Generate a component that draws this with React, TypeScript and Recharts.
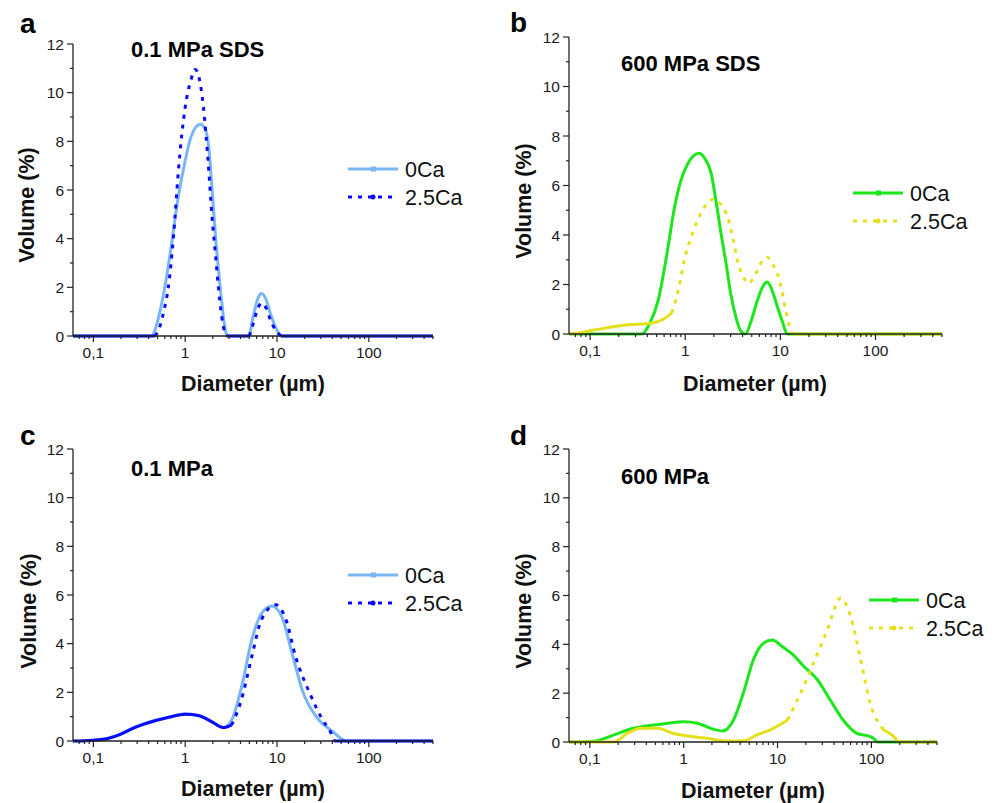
import React from 'react';
import { LineChart, Line, XAxis, YAxis } from 'recharts';

type Pt = { d: number; v: number };

// axis ticks
const xMajor = [0.1, 1, 10, 100];
const xMinor = [0.07, 0.08, 0.09, 0.2, 0.3, 0.4, 0.5, 0.6, 0.7, 0.8, 0.9, 2, 3, 4, 5, 6, 7, 8, 9, 20, 30, 40, 50, 60, 70, 80, 90, 200, 300, 400, 500];
const xTickText: Record<string, string> = { '0.1': '0,1', '1': '1', '10': '10', '100': '100' };
const yMajor = [0, 2, 4, 6, 8, 10, 12];
const yMinor = [1, 3, 5, 7, 9, 11];
const xDomain: [number, number] = [0.06, 500];

// diameter (µm), volume (%)
const a0Ca: [number, number][] = [
  [0.06, 0], [0.42, 0], [0.47, 0.25], [0.5, 0.6], [0.6, 2.0], [0.7, 3.6], [0.84, 5.7], [1.0, 7.2], [1.16, 8.2],
  [1.46, 8.7], [1.65, 8.5], [1.8, 7.8], [2.0, 5.6], [2.13, 4.2], [2.35, 2.4], [2.5, 1.4], [2.8, 0.1], [3.0, 0],
  [4.9, 0], [5.5, 0.8], [6.2, 1.55], [6.8, 1.75], [7.6, 1.5], [8.5, 0.9], [9.8, 0.3], [11.4, 0], [500, 0],
];
const a25Ca: [number, number][] = [
  [0.06, 0], [0.47, 0], [0.52, 0.3], [0.6, 1.2], [0.65, 1.9], [0.75, 4.2], [0.84, 6.7], [0.92, 8.3], [1.0, 9.4],
  [1.15, 10.5], [1.29, 10.95], [1.42, 10.6], [1.58, 9.4], [1.79, 7.0], [1.95, 5.0], [2.13, 3.4], [2.3, 2.0],
  [2.5, 0.8], [2.7, 0.15], [2.8, 0], [5.0, 0], [5.5, 0.5], [6.2, 1.15], [6.8, 1.35], [7.6, 1.15], [8.5, 0.65],
  [9.8, 0.2], [11, 0], [500, 0],
];
const b0Ca: [number, number][] = [
  [0.06, 0], [0.35, 0], [0.42, 0.4], [0.52, 1.37], [0.64, 3.2], [0.77, 5.1], [0.9, 6.2], [1.07, 6.9], [1.4, 7.3],
  [1.6, 7.1], [1.87, 6.5], [2.1, 5.4], [2.37, 4.1], [2.7, 2.8], [3.0, 1.65], [3.4, 0.7], [3.8, 0.15], [4.3, 0],
  [4.9, 0.5], [5.75, 1.37], [6.5, 1.9], [7.3, 2.1], [8.2, 1.75], [9.3, 1.1], [10.5, 0.5], [11.8, 0], [500, 0],
];
const b25Ca: [number, number][] = [
  [0.06, 0], [0.08, 0.05], [0.105, 0.15], [0.15, 0.25], [0.25, 0.37], [0.44, 0.43], [0.6, 0.62], [0.72, 0.85],
  [0.85, 1.8], [0.98, 3.0], [1.2, 4.1], [1.47, 4.9], [2.0, 5.45], [2.4, 5.2], [2.8, 4.7], [3.2, 3.8], [3.6, 2.85],
  [4.1, 2.3], [4.6, 2.05], [5.3, 2.3], [6.2, 2.85], [7.3, 3.1], [8.3, 2.8], [9.3, 2.45], [10.3, 1.8], [11.3, 1.0],
  [12.3, 0.4], [13.3, 0], [500, 0],
];
const c0Ca: [number, number][] = [
  [0.06, 0], [0.08, 0.01], [0.1, 0.03], [0.143, 0.1], [0.2, 0.3], [0.255, 0.5], [0.35, 0.7], [0.47, 0.85],
  [0.7, 1.0], [1.0, 1.12], [1.39, 1.05], [1.93, 0.8], [2.6, 0.55], [3.2, 0.85], [4.1, 2.2], [5.3, 4.15],
  [6.8, 5.25], [8.8, 5.55], [11.3, 5.1], [14.6, 3.6], [18.8, 2.1], [26.7, 1.0], [40, 0.4], [50, 0.1], [57, 0], [500, 0],
];
const c25Ca: [number, number][] = [
  [0.06, 0], [0.08, 0.01], [0.1, 0.03], [0.143, 0.1], [0.2, 0.28], [0.255, 0.48], [0.35, 0.68], [0.47, 0.83],
  [0.7, 1.0], [1.0, 1.1], [1.39, 1.05], [1.93, 0.8], [2.6, 0.55], [3.2, 0.65], [4.1, 1.7], [5.3, 3.45],
  [6.8, 5.0], [9.7, 5.6], [12.5, 5.0], [16, 3.45], [22.5, 2.0], [31, 0.9], [39, 0.3], [42, 0], [500, 0],
];
const d0Ca: [number, number][] = [
  [0.06, 0], [0.1, 0.02], [0.12, 0.05], [0.18, 0.29], [0.29, 0.56], [0.48, 0.7], [0.68, 0.77], [1.0, 0.83],
  [1.4, 0.77], [1.94, 0.56], [2.6, 0.45], [3.4, 0.9], [4.4, 2.1], [5.5, 3.35], [7.1, 4.05], [8.8, 4.18],
  [11.3, 3.9], [14.4, 3.6], [19, 3.1], [26.6, 2.55], [36.7, 1.7], [50, 0.9], [70, 0.35], [97, 0.22], [105, 0.15],
  [116, 0], [500, 0],
];
const d25Ca: [number, number][] = [
  [0.06, 0], [0.18, 0], [0.25, 0.35], [0.35, 0.56], [0.53, 0.56], [0.78, 0.35], [1.1, 0.25], [1.8, 0.15],
  [2.9, 0.04], [4.4, 0.05], [6.1, 0.3], [8.4, 0.5], [12.8, 0.9], [17.6, 2.0], [24, 3.2], [34, 4.6], [47, 5.9],
  [60, 5.15], [77, 3.35], [97, 1.6], [134, 0.5], [170, 0.25], [200, 0], [500, 0],
];

const BLUE_LIGHT = '#78b6f4';
const BLUE = '#0a0aff';
const GREEN = '#1de61d';
const YELLOW = '#e4e01c';
const AXIS = '#222';
const FONT = 'Arial, "Liberation Sans", Helvetica, sans-serif';

const toPts = (arr: [number, number][]): Pt[] => arr.map(([d, v]) => ({ d, v }));

// split a series into alternating solid / dashed parts at given diameters
const pieces = (arr: [number, number][], breaks: number[]) => {
  const pts = toPts(arr);
  const bounds = [xDomain[0], ...breaks, xDomain[1]];
  const out: { pts: Pt[]; dashed: boolean }[] = [];
  for (let i = 0; i < bounds.length - 1; i++) {
    out.push({ pts: pts.filter((p) => p.d >= bounds[i] && p.d <= bounds[i + 1]), dashed: i % 2 === 1 });
  }
  return out;
};

const XTick = (props: any) => {
  const { x, y, payload } = props;
  const v = payload.value;
  const major = xMajor.includes(v);
  return (
    <g>
      <line x1={x} x2={x} y1={y} y2={y + (major ? 6 : 3)} stroke={AXIS} strokeWidth={1.2} />
      {major && (
        <text x={x} y={y + 22} textAnchor="middle" fontSize={15.5} fill="#1a1a1a" fontFamily={FONT}>
          {xTickText[String(v)]}
        </text>
      )}
    </g>
  );
};

const YTick = (props: any) => {
  const { x, y, payload } = props;
  const v = payload.value;
  const major = yMajor.includes(v);
  return (
    <g>
      <line x1={x} x2={x - (major ? 6 : 3)} y1={y} y2={y} stroke={AXIS} strokeWidth={1.2} />
      {major && (
        <text x={x - 9} y={y} dy="0.36em" textAnchor="end" fontSize={15.5} fill="#1a1a1a" fontFamily={FONT}>
          {v}
        </text>
      )}
    </g>
  );
};

type PanelProps = {
  left: number;
  top: number;
  width: number;
  height: number;
  margin: { top: number; right: number; bottom: number; left: number };
  solid: [number, number][];
  dotted: [number, number][];
  breaks: number[];
  c0: string;
  c25: string;
};

function Panel({ left, top, width, height, margin, solid, dotted, breaks, c0, c25 }: PanelProps) {
  const parts = pieces(dotted, breaks);
  return (
    <div style={{ position: 'absolute', left, top }}>
      <LineChart width={width} height={height} margin={margin}>
        <XAxis
          dataKey="d"
          type="number"
          scale="log"
          domain={xDomain}
          allowDataOverflow
          ticks={[...xMajor, ...xMinor]}
          interval={0}
          tick={<XTick />}
          tickLine={false}
          tickSize={0}
          tickMargin={0}
          height={30}
          axisLine={{ stroke: AXIS, strokeWidth: 1.3 }}
        />
        <YAxis
          type="number"
          domain={[0, 12]}
          ticks={[...yMajor, ...yMinor]}
          interval={0}
          tick={<YTick />}
          tickLine={false}
          tickSize={0}
          tickMargin={0}
          width={60}
          axisLine={{ stroke: AXIS, strokeWidth: 1.3 }}
        />
        <Line
          data={toPts(solid)}
          dataKey="v"
          type="monotone"
          stroke={c0}
          strokeWidth={3}
          dot={false}
          isAnimationActive={false}
        />
        {parts.map((p, i) => (
          <Line
            key={i}
            data={p.pts}
            dataKey="v"
            type="monotone"
            stroke={c25}
            strokeWidth={3}
            strokeDasharray={p.dashed ? '4 6' : undefined}
            dot={false}
            isAnimationActive={false}
          />
        ))}
      </LineChart>
    </div>
  );
}

const LegendBox = ({ x, y, c0, c25 }: { x: number; y: number; c0: string; c25: string }) => (
  <g fontFamily={FONT}>
    <line x1={x} x2={x + 50} y1={y} y2={y} stroke={c0} strokeWidth={3} />
    <rect x={x + 23} y={y - 2.5} width={5} height={5} fill={c0} />
    <text x={x + 57} y={y + 8} fontSize={21.5} fill="#111">0Ca</text>
    <line x1={x} x2={x + 50} y1={y + 28} y2={y + 28} stroke={c25} strokeWidth={3} strokeDasharray="4 6" />
    <circle cx={x + 25} cy={y + 28} r={2.5} fill={c25} />
    <text x={x + 57} y={y + 36} fontSize={21.5} fill="#111">2.5Ca</text>
  </g>
);

const YTitle = ({ x, y }: { x: number; y: number }) => (
  <text x={x} y={y} transform={`rotate(-90 ${x} ${y})`} textAnchor="middle" fontSize={21.5} fontWeight="bold" fill="#111">
    Volume (%)
  </text>
);

const XTitle = ({ x, y }: { x: number; y: number }) => (
  <text x={x} y={y} textAnchor="middle" fontSize={21.5} fontWeight="bold" fill="#111">
    Diameter (µm)
  </text>
);

export default function App() {
  return (
    <div style={{ position: 'absolute', left: 0, top: 0, width: 1002, height: 803, background: '#fff', fontFamily: FONT }}>
      <Panel left={0} top={0} width={500} height={400} margin={{ top: 44, right: 67, bottom: 34, left: 13 }}
        solid={a0Ca} dotted={a25Ca} breaks={[0.47, 2.8, 5.0, 11]} c0={BLUE_LIGHT} c25={BLUE} />
      <Panel left={500} top={0} width={502} height={400} margin={{ top: 37, right: 60, bottom: 36, left: 9 }}
        solid={b0Ca} dotted={b25Ca} breaks={[0.72, 13.3]} c0={GREEN} c25={YELLOW} />
      <Panel left={0} top={400} width={500} height={403} margin={{ top: 49, right: 67, bottom: 32, left: 13 }}
        solid={c0Ca} dotted={c25Ca} breaks={[3.2, 42]} c0={BLUE_LIGHT} c25={BLUE} />
      <Panel left={500} top={400} width={502} height={403} margin={{ top: 49, right: 65, bottom: 31, left: 9 }}
        solid={d0Ca} dotted={d25Ca} breaks={[12.8, 134]} c0={GREEN} c25={YELLOW} />

      <svg width={1002} height={803} style={{ position: 'absolute', left: 0, top: 0, pointerEvents: 'none' }} fontFamily={FONT}>
        <g fontSize={28} fontWeight="bold" fill="#000">
          <text x={20} y={33}>a</text>
          <text x={510} y={32}>b</text>
          <text x={20} y={445}>c</text>
          <text x={510} y={445}>d</text>
        </g>
        <g fontSize={22} fontWeight="bold" fill="#000">
          <text x={131} y={57}>0.1 MPa SDS</text>
          <text x={621} y={71}>600 MPa SDS</text>
          <text x={131} y={476}>0.1 MPa</text>
          <text x={621} y={484}>600 MPa</text>
        </g>
        <YTitle x={34} y={205} />
        <YTitle x={531} y={201} />
        <YTitle x={36} y={611} />
        <YTitle x={531} y={611} />
        <XTitle x={253} y={391} />
        <XTitle x={755} y={391} />
        <XTitle x={253} y={796} />
        <XTitle x={753} y={798} />
        <LegendBox x={348} y={169} c0={BLUE_LIGHT} c25={BLUE} />
        <LegendBox x={853} y={193} c0={GREEN} c25={YELLOW} />
        <LegendBox x={348} y={575} c0={BLUE_LIGHT} c25={BLUE} />
        <LegendBox x={869} y={600} c0={GREEN} c25={YELLOW} />
      </svg>
    </div>
  );
}
